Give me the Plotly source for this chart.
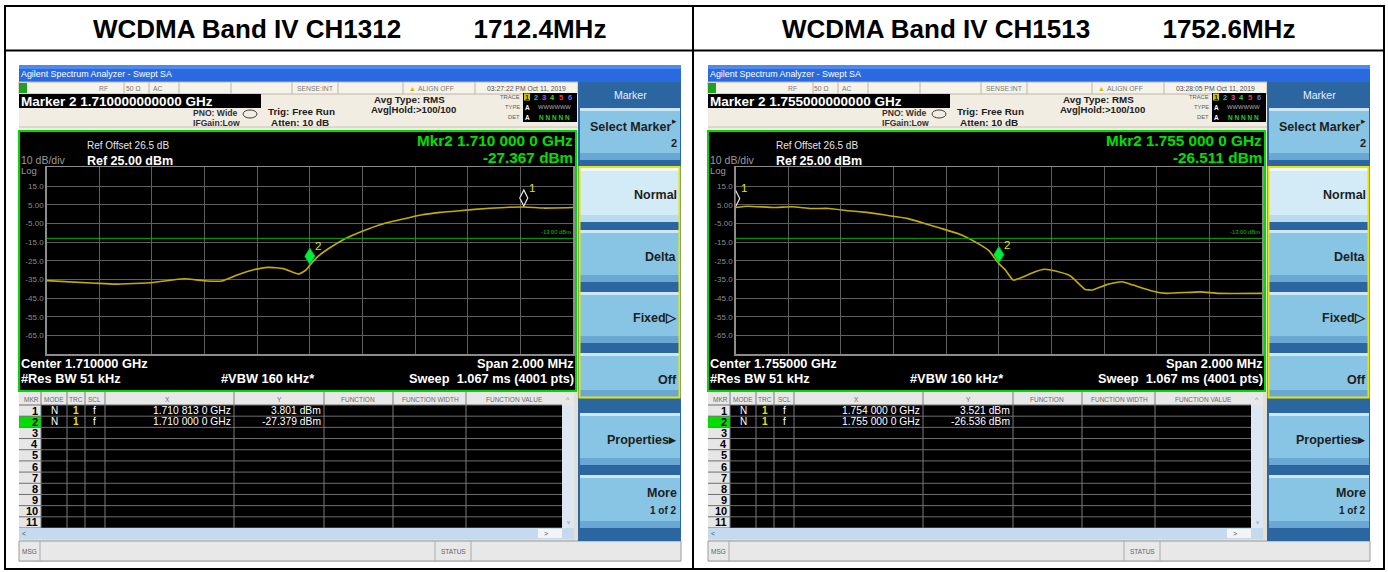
import plotly.graph_objects as go

# ---------------- data ----------------
titles = ["WCDMA Band IV CH1312" + "\u00a0" * 10 + "1712.4MHz",
          "WCDMA Band IV CH1513" + "\u00a0" * 10 + "1752.6MHz"]

freq_left = [1.709000, 1.709186, 1.709259, 1.709404, 1.709521, 1.709608, 1.709666,
             1.709724, 1.709783, 1.709841, 1.709899, 1.709957, 1.709986, 1.710000,
             1.710030, 1.710073, 1.710132, 1.710204, 1.710277, 1.710350, 1.710422,
             1.710495, 1.710568, 1.710684, 1.710813, 1.710888, 1.711000]
level_left = [-35.6, -37.0, -37.5, -36.6, -34.6, -35.8, -35.8,
              -32.6, -29.9, -28.5, -29.2, -32.1, -29.9, -27.4,
              -22.8, -18.3, -13.3, -8.9, -5.3, -2.8, -0.5,
              0.9, 1.8, 3.1, 3.8, 3.2, 3.5]

freq_right = [1.754000, 1.754046, 1.754145, 1.754215, 1.754286, 1.754356, 1.754427,
              1.754497, 1.754568, 1.754652, 1.754708, 1.754779, 1.754849, 1.754920,
              1.754962, 1.755000, 1.755025, 1.755054, 1.755089, 1.755131, 1.755173,
              1.755215, 1.755272, 1.755328, 1.755356, 1.755413, 1.755469, 1.755511,
              1.755582, 1.755638, 1.755765, 1.755835, 1.756000]
level_right = [3.5, 4.2, 3.5, 3.9, 3.0, 3.0, 1.8,
               0.9, -0.5, -2.3, -4.6, -7.6, -10.7, -15.7,
               -19.6, -26.5, -29.9, -35.3, -33.8, -31.2, -29.5,
               -30.5, -33.1, -40.3, -40.6, -37.6, -36.2, -38.0,
               -41.1, -42.4, -41.6, -42.4, -42.4]

center_left, center_right = 1.710, 1.755
span = 0.002
ref_level = 25.0
display_line = -13.0

mkr_freq_left = [1.7108130, 1.7100000]
mkr_level_left = [3.801, -27.379]
mkr_freq_right = [1.7540000, 1.7550000]
mkr_level_right = [3.521, -26.536]

y_tick_vals = [15, 5, -5, -15, -25, -35, -45, -55, -65]
y_tick_text = ["15.0", "5.00", "-5.00", "-15.0", "-25.0", "-35.0", "-45.0", "-55.0", "-65.0"]

panel_text = [
    dict(marker="Marker 2 1.710000000000 GHz", time="03:27:22 PM Oct 11, 2019",
         mkr1="Mkr2 1.710 000 0 GHz", mkr2="-27.367 dBm", center="Center 1.710000 GHz",
         rows=[("1.710 813 0 GHz", "3.801 dBm"), ("1.710 000 0 GHz", "-27.379 dBm")]),
    dict(marker="Marker 2 1.755000000000 GHz", time="03:28:05 PM Oct 11, 2019",
         mkr1="Mkr2 1.755 000 0 GHz", mkr2="-26.511 dBm", center="Center 1.755000 GHz",
         rows=[("1.754 000 0 GHz", "3.521 dBm"), ("1.755 000 0 GHz", "-26.536 dBm")]),
]

# ---------------- helpers ----------------
W, H = 1388, 572
FONT = "Liberation Sans"
shapes, annotations = [], []


def X(px):
    return px / W


def Y(py):
    return 1 - py / H


def rect(x0, y0, x1, y1, fill, line=None, lw=1, layer="below"):
    shapes.append(dict(type="rect", xref="paper", yref="paper",
                       x0=X(x0), x1=X(x1), y0=Y(y1), y1=Y(y0),
                       fillcolor=fill, layer=layer,
                       line=dict(color=line if line else "rgba(0,0,0,0)", width=lw if line else 0)))


def seg(x0, y0, x1, y1, color, lw=1, layer="below"):
    shapes.append(dict(type="line", xref="paper", yref="paper",
                       x0=X(x0), x1=X(x1), y0=Y(y0), y1=Y(y1), layer=layer,
                       line=dict(color=color, width=lw)))


def txt(x, y, s, size, color="#000000", anchor="left", bold=False, family=FONT):
    annotations.append(dict(xref="paper", yref="paper", x=X(x), y=Y(y),
                            text=("<b>%s</b>" % s) if bold else s, showarrow=False,
                            xanchor=anchor, yanchor="middle", borderpad=0,
                            font=dict(size=size, color=color, family=family)))


# ---------------- outer white frame ----------------
rect(5, 6, 1384, 569, "white", "black", 2)
seg(5, 50.5, 1384, 50.5, "black", 2)
seg(693, 6, 693, 569, "black", 2)
txt(349, 29, titles[0], 26, "black", "center", True)
txt(1038, 29, titles[1], 26, "black", "center", True)

GRID_L, GRID_R, GRID_T, GRID_B = 46.7, 573.0, 167.3, 354.3
PANEL_DX = [0, 689]
BIG = 12.8


def draw_panel(dx, P):
    def r(x0, y0, x1, y1, *a, **k):
        rect(x0 + dx, y0, x1 + dx, y1, *a, **k)

    def s(x0, y0, x1, y1, *a, **k):
        seg(x0 + dx, y0, x1 + dx, y1, *a, **k)

    def t(x, y, *a, **k):
        txt(x + dx, y, *a, **k)

    # screen background
    r(19, 65, 681, 562, "#e2dfd6")
    # title bar
    r(19, 65, 681, 82, "#2a6ae0")
    r(19, 65, 681, 69, "#4c8af2")
    t(20, 74, "Agilent Spectrum Analyzer - Swept SA", 8.9, "white")
    # status strip + info area
    r(19, 82, 578, 131, "#f1ede3")
    r(19, 82, 578, 94, "#f6f3ea", "#bdb6a4", 1)
    for cx in [124, 149, 179, 231, 292, 338, 403, 475]:
        s(cx, 82, cx, 94, "#bdb6a4", 1)
    r(19, 83, 27, 93, "#22a022")
    t(103, 88, "RF", 6.8, "#7a7a7a", "center")
    t(133, 88, "50 Ω", 6.8, "#7a7a7a", "center")
    t(158, 88, "AC", 6.8, "#7a7a7a", "center")
    t(315, 88, "SENSE:INT", 6.8, "#7a7a7a", "center")
    t(412, 88, "▲", 7, "#d8b800", "center")
    t(436, 88, "ALIGN OFF", 6.8, "#7a7a7a", "center")
    t(526, 88, P["time"], 6.8, "#505050", "center")
    s(19, 127, 578, 127, "#c8c2b2", 1)
    # marker field
    r(19, 94, 261, 108, "black")
    t(20, 101, P["marker"], 13.5, "white", bold=True)
    t(192, 113, "PNO: Wide", 8.6, "#303030", bold=True)
    t(192, 123, "IFGain:Low", 8.6, "#303030", bold=True)
    shapes.append(dict(type="circle", xref="paper", yref="paper", x0=X(243 + dx), x1=X(257 + dx),
                       y0=Y(118), y1=Y(110), line=dict(color="#404040", width=1), layer="below"))
    t(267, 111, "Trig: Free Run", 9.9, "#202020", bold=True)
    t(270, 122, "Atten: 10 dB", 9.9, "#202020", bold=True)
    t(373, 99, "Avg Type: RMS", 9.8, "#202020", bold=True)
    t(370, 110, "Avg|Hold:>100/100", 9.6, "#202020", bold=True)
    t(521, 97, "TRACE", 5.8, "#606060", "right")
    t(521, 107, "TYPE", 5.8, "#606060", "right")
    t(521, 117, "DET", 5.8, "#606060", "right")
    r(523, 93, 577, 122, "black")
    r(524, 93.5, 530, 100.5, "#cfc400")
    for i, c in enumerate(["#202020", "#00c8c8", "#e040e0", "#40d040", "#ff3050", "#6070ff"]):
        t(527 + i * 8.5, 97, str(i + 1), 7.5, c, "center", True)
    t(527, 107, "A", 6.5, "white", "center", True)
    t(554, 107, "WWWWWW", 5.8, "#b0b0b0", "center")
    t(527, 117, "A", 6.5, "white", "center", True)
    t(554, 117, "N N N N N", 6.5, "#20d020", "center", True)

    # spectrum display area
    r(19, 131, 576, 391, "black", "#00d800", 2)
    t(86, 146, "Ref Offset 26.5 dB", 10, "#e6e6e6")
    t(20, 160, "10 dB/div", 10.5, "#9a9a9a")
    t(86, 160.5, "Ref 25.00 dBm", 12.5, "white", bold=True)
    t(20, 170.5, "Log", 9.5, "#9a9a9a")
    t(574, 141, P["mkr1"], 15.3, "#00e000", "right", True)
    t(574, 157, P["mkr2"], 15.3, "#00e000", "right", True)
    t(20, 363, P["center"], BIG, "white", bold=True)
    t(20, 378, "#Res BW 51 kHz", BIG, "white", bold=True)
    t(220, 378, "#VBW 160 kHz*", BIG, "white", bold=True)
    t(575, 363, "Span 2.000 MHz", BIG, "white", "right", True)
    t(575, 378, "Sweep\u00a0\u00a01.067 ms (4001 pts)", BIG, "white", "right", True)
    t(572, 232, "-13.00 dBm", 5.8, "#00c000", "right")

    # marker table
    r(19, 392, 574, 405, "#e8e8e8")
    for cx, lab in [(32, "MKR"), (54, "MODE"), (76, "TRC"), (95, "SCL"), (167, "X"), (279, "Y"),
                    (358, "FUNCTION"), (430, "FUNCTION WIDTH"), (514, "FUNCTION VALUE")]:
        t(cx, 399, lab, 6.5, "#6a6a6a", "center")
    t(568, 399, "^", 7, "#7090c0", "center")
    r(41, 405, 562, 528, "black")
    r(19, 405, 41, 528, "#e6e6e6")
    rh = 123.0 / 11
    r(19, 405 + rh, 41, 405 + 2 * rh, "#00e000")
    for i in range(12):
        s(19, 405 + i * rh, 562, 405 + i * rh, "#6e6e6e", 1)
    for cx in [41, 67, 85, 105, 234, 324, 393, 466]:
        s(cx, 392, cx, 528, "#7a7a7a", 1)
    for i in range(11):
        t(39, 405 + (i + 0.5) * rh, str(i + 1), 11, "black", "right", True)
    for i, (xv, yv) in enumerate(P["rows"]):
        yy = 405 + (i + 0.5) * rh
        t(54, yy, "N", 10, "white", "center")
        t(76, yy, "1", 10, "#e8e000", "center", True)
        t(95, yy, "f", 10, "white", "center")
        t(232, yy, xv, 10.3, "white", "right")
        t(322, yy, yv, 10.3, "white", "right")
    r(562, 405, 574, 528, "#dde7f3")
    t(568, 522, "v", 6, "#7090c0", "center")
    r(19, 528, 574, 539, "#c6daef")
    r(538, 529, 562, 538, "#f4f4f4")
    t(24, 533.5, "<", 7, "#405070", "center")
    t(546, 533.5, ">", 7, "#405070", "center")
    # status bar
    r(19, 541, 681, 561, "#e8e8e8", "#9a9a9a", 1)
    s(40, 541, 40, 561, "#aaaaaa", 1)
    s(435, 541, 435, 561, "#aaaaaa", 1)
    s(471, 541, 471, 561, "#aaaaaa", 1)
    t(21, 551, "MSG", 6.5, "#606060")
    t(453, 551, "STATUS", 6.5, "#606060", "center")

    # soft-key menu
    r(578, 82, 681, 541, "#2c66a0")
    t(630, 95, "Marker", 10.5, "#e8f0ff", "center")
    keys = [(108, 160, "#88c4e3"), (168, 222, "#d3ebf7"), (230, 282, "#88c4e3"),
            (292, 343, "#88c4e3"), (353, 397, "#88c4e3"), (413, 465, "#88c4e3"),
            (475, 528, "#88c4e3")]
    for (y0, y1, fill) in keys:
        sel = fill == "#d3ebf7"
        r(580, y0, 680, y1, fill)
        r(580, y0, 680, y0 + 3, "#eef8fd" if sel else "#cfe7f4")
        r(580, y1 - 7, 680, y1, "#b8dcee" if sel else "#6aa7d2")
    rect(579.5 + dx, 167, 679.5 + dx, 397.5, "rgba(0,0,0,0)", "#e6e600", 2)
    KS = 12.5
    t(672, 127, "Select Marker", KS, "#1e1e1e", "right", True)
    t(678, 121, "▸", 9, "#1e1e1e", "right")
    t(678, 143, "2", 11, "#1e1e1e", "right", True)
    t(678, 195, "Normal", KS, "#1e1e1e", "right", True)
    t(678, 257, "Delta", KS, "#1e1e1e", "right", True)
    t(678, 318, "Fixed▷", KS, "#1e1e1e", "right", True)
    t(678, 380, "Off", KS, "#1e1e1e", "right", True)
    t(678, 440, "Properties▸", KS, "#1e1e1e", "right", True)
    t(678, 493, "More", KS, "#1e1e1e", "right", True)
    t(678, 510, "1 of 2", 10, "#1e1e1e", "right", True)


for dx, P in zip(PANEL_DX, panel_text):
    draw_panel(dx, P)

# ---------------- spectrum traces on real axes ----------------
fig = go.Figure()
fig.add_trace(go.Scatter(x=freq_left, y=level_left, mode="lines", xaxis="x", yaxis="y",
                         line=dict(color="#c2ae00", width=1.6, shape="spline", smoothing=0.4),
                         hoverinfo="skip", showlegend=False))
fig.add_trace(go.Scatter(x=freq_right, y=level_right, mode="lines", xaxis="x2", yaxis="y2",
                         line=dict(color="#c2ae00", width=1.6, shape="spline", smoothing=0.4),
                         hoverinfo="skip", showlegend=False))

ydom = [1 - GRID_B / H, 1 - GRID_T / H]


def xaxis_cfg(dx, center, anchor):
    return dict(domain=[X(GRID_L + dx), X(GRID_R + dx)], range=[center - span / 2, center + span / 2],
                tickvals=[center - span / 2 + i * span / 10 for i in range(11)],
                showticklabels=False, ticks="", showgrid=True, gridcolor="#5e5e5e", gridwidth=1,
                zeroline=False, showline=True, mirror=True, linecolor="#8c8c8c", linewidth=1.5,
                anchor=anchor, fixedrange=True)


def yaxis_cfg(anchor):
    return dict(domain=ydom, range=[ref_level - 100, ref_level], tickvals=y_tick_vals,
                ticktext=y_tick_text, tickfont=dict(size=8, color="#8c8c8c", family=FONT),
                ticks="", showgrid=True, gridcolor="#5e5e5e", gridwidth=1, zeroline=False,
                showline=True, mirror=True, linecolor="#8c8c8c", linewidth=1.5,
                anchor=anchor, fixedrange=True)


# display line and marker glyphs
for xr, yr, mf, ml in [("x", "y", mkr_freq_left, mkr_level_left),
                       ("x2", "y2", mkr_freq_right, mkr_level_right)]:
    shapes.append(dict(type="line", xref=xr + " domain", yref=yr, x0=0, x1=1,
                       y0=display_line, y1=display_line, layer="above",
                       line=dict(color="#00b000", width=1)))
    shapes.append(dict(type="path", xref=xr, yref=yr, xsizemode="pixel", ysizemode="pixel",
                       xanchor=mf[0], yanchor=ml[0], path="M 0 1 L 4 9 L 0 17 L -4 9 Z",
                       fillcolor="black", line=dict(color="#e8e8e8", width=1.2), layer="above"))
    shapes.append(dict(type="path", xref=xr, yref=yr, xsizemode="pixel", ysizemode="pixel",
                       xanchor=mf[1], yanchor=ml[1], path="M 0 1 L 5 9 L 0 17 L -5 9 Z",
                       fillcolor="#00f040", line=dict(color="#00c030", width=1), layer="above"))
    for k in range(2):
        annotations.append(dict(xref=xr, yref=yr, x=mf[k], y=ml[k], text=str(k + 1),
                                showarrow=False, xanchor="center", yanchor="middle",
                                xshift=8, yshift=19,
                                font=dict(size=11.5, color="#e8e000", family=FONT)))

fig.update_layout(
    width=W, height=H, margin=dict(l=0, r=0, t=0, b=0),
    paper_bgcolor="white", plot_bgcolor="black",
    xaxis=xaxis_cfg(0, center_left, "y"), yaxis=yaxis_cfg("x"),
    xaxis2=xaxis_cfg(PANEL_DX[1], center_right, "y2"), yaxis2=yaxis_cfg("x2"),
    shapes=shapes, annotations=annotations, showlegend=False,
    font=dict(family=FONT),
)

fig.write_html("out.html", config={"displayModeBar": False, "staticPlot": True},
               post_script="document.body.style.margin='0px';document.body.style.overflow='hidden';")
